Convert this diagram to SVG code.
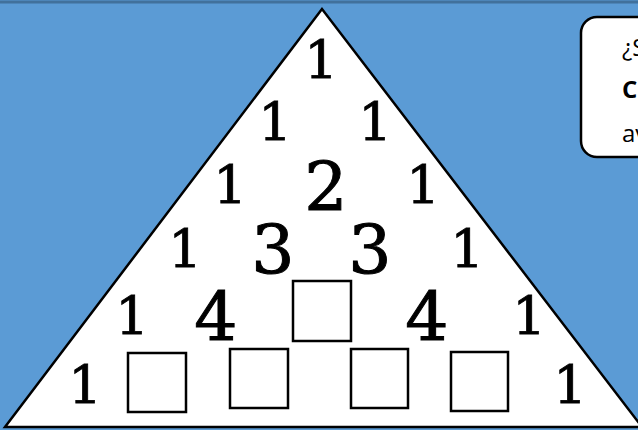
<svg xmlns="http://www.w3.org/2000/svg" width="638" height="430" viewBox="0 0 638 430">
<style>
.d1{font-family:"DejaVu Serif","Liberation Serif",serif;font-size:53px;fill:#000;stroke:#000;stroke-width:0.8;text-anchor:middle}
.d2{font-family:"DejaVu Serif","Liberation Serif",serif;font-size:68px;fill:#000;stroke:#000;stroke-width:1;text-anchor:middle}
.bx{fill:#fff;stroke:#000;stroke-width:2.5}
.t{font-family:"Open Sans","Noto Sans",sans-serif;font-size:24px;fill:#000}
</style>
<rect id="background" x="0" y="0" width="638" height="430" fill="#5B9BD5"/>
<rect id="top-border" x="0" y="0.5" width="638" height="3" fill="#41719C"/>
<polygon id="triangle" points="322,9 5,427 642,427" fill="#fff" stroke="#000" stroke-width="2.5" stroke-linejoin="miter"/>
<g id="row1">
<text class="d1" x="321" y="77.5">1</text>
</g>
<g id="row2">
<text class="d1" x="275" y="140">1</text>
<text class="d1" x="375" y="140">1</text>
</g>
<g id="row3">
<text class="d1" x="230" y="203">1</text>
<text class="d2" x="326" y="210">2</text>
<text class="d1" x="423" y="203">1</text>
</g>
<g id="row4">
<text class="d1" x="185" y="267">1</text>
<text class="d2" x="273" y="273">3</text>
<text class="d2" x="370" y="273">3</text>
<text class="d1" x="467" y="267">1</text>
</g>
<g id="row5">
<text class="d1" x="132" y="334">1</text>
<text class="d2" x="216" y="340">4</text>
<rect class="bx" x="293" y="281" width="58" height="60"/>
<text class="d2" x="427" y="340">4</text>
<text class="d1" x="529" y="334">1</text>
</g>
<g id="row6">
<text class="d1" x="85" y="403">1</text>
<rect class="bx" x="128" y="353" width="58" height="59"/>
<rect class="bx" x="230" y="349" width="58" height="59"/>
<rect class="bx" x="351" y="349" width="57" height="59"/>
<rect class="bx" x="451" y="352" width="57" height="59"/>
<text class="d1" x="570" y="403">1</text>
</g>
<g id="callout">
<rect x="581" y="17" width="90" height="140" rx="16" ry="16" fill="#fff" stroke="#000" stroke-width="2.5"/>
<text class="t" x="622" y="56">¿S</text>
<text class="t" x="622" y="98" font-weight="bold">C</text>
<text class="t" x="622" y="142">av</text>
</g>
</svg>
